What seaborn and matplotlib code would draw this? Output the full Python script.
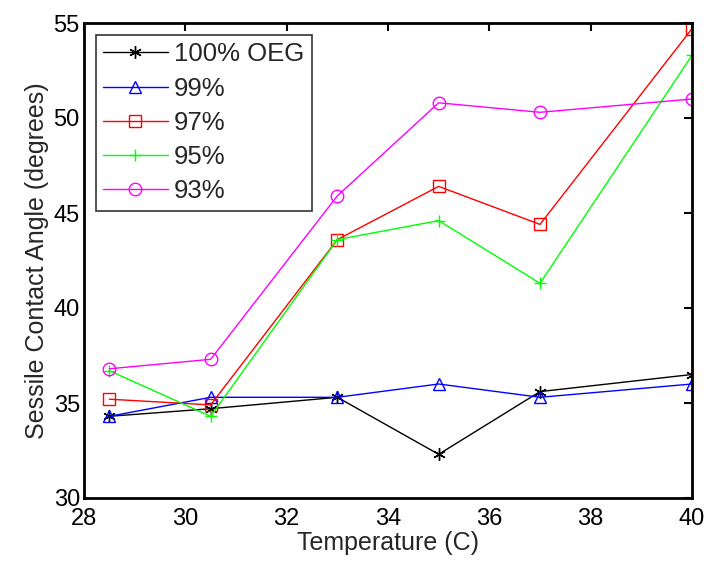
import pandas as pd
import matplotlib
matplotlib.use('Agg')
import matplotlib.pyplot as plt
import seaborn as sns

temps = [28.5, 30.5, 33, 35, 37, 40]
oeg100 = [34.3, 34.7, 35.3, 32.3, 35.6, 36.5]
oeg99 = [34.3, 35.3, 35.3, 36.0, 35.3, 36.0]
oeg97 = [35.2, 34.9, 43.6, 46.4, 44.4, 54.7]
oeg95 = [36.7, 34.3, 43.6, 44.6, 41.3, 53.3]
oeg93 = [36.8, 37.3, 45.9, 50.8, 50.3, 51.0]
labels = ['100% OEG', '99%', '97%', '95%', '93%']

sns.set_style('white')
plt.rcParams['font.family'] = ['Liberation Sans', 'DejaVu Sans']

fig = plt.figure(figsize=(7.1, 5.62), dpi=100)
ax = fig.add_axes([84/710, 64/562, 608/710, 475/562])

series = [oeg100, oeg99, oeg97, oeg95, oeg93]
colors = ['black', 'blue', 'red', '#00ff00', 'magenta']
# (6, 2, 0) = six-armed asterisk like matlab's '*'
markers = [(6, 2, 0), '^', 's', '+', 'o']
for vals, lab, c, m in zip(series, labels, colors, markers):
    df = pd.DataFrame({'T': temps, 'angle': vals})
    sns.lineplot(data=df, x='T', y='angle', ax=ax, color=c, marker=m,
                 markersize=9, mfc='none', mec=c, mew=1, lw=1, label=lab)

ax.set_xlim(28, 40)
ax.set_ylim(30, 55)
ax.set_xticks(range(28, 41, 2))
ax.set_yticks(range(30, 56, 5))
ax.tick_params(direction='in', top=True, right=True, length=6, width=1.5,
               labelsize=17, colors='black')
ax.tick_params(axis='x', pad=7)
ax.tick_params(axis='y', pad=3)
for s in ax.spines.values():
    s.set_linewidth(2)
    s.set_color('black')
ax.set_xlabel('Temperature (C)', fontsize=18, labelpad=1)
ax.set_ylabel('Sessile Contact Angle (degrees)', fontsize=18, labelpad=3)

leg = ax.legend(loc='upper left', fontsize=18.5, frameon=True, fancybox=False,
                edgecolor='black', handlelength=2.5, handletextpad=0.25,
                labelspacing=0.4, borderaxespad=0.45, borderpad=0.3)
leg.get_frame().set_linewidth(1.2)

fig.savefig('out.png', dpi=100)
